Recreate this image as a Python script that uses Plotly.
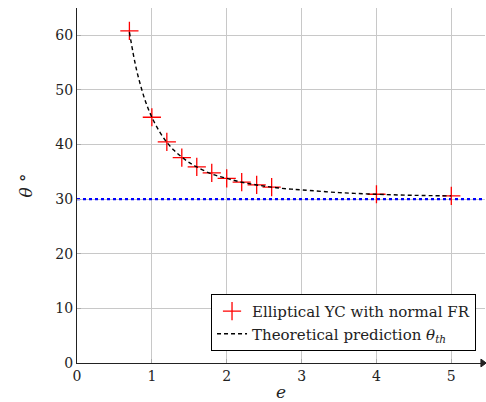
import plotly.graph_objects as go

# Data
e_points = [0.7, 1.0, 1.2, 1.4, 1.6, 1.8, 2.0, 2.2, 2.4, 2.6, 4.0, 5.0]
theta_points = [60.8, 45.0, 40.5, 37.6, 35.9, 34.8, 33.8, 33.1, 32.6, 32.2, 30.9, 30.6]

e_theory = [0.7, 0.75, 0.8, 0.85, 0.9, 0.95, 1.0, 1.1, 1.2, 1.3, 1.4, 1.5, 1.6, 1.8,
            2.0, 2.2, 2.4, 2.6, 2.8, 3.0, 3.5, 4.0, 4.5, 5.0]
theta_theory = [60.6, 56.7, 53.4, 50.8, 48.5, 46.6, 45.0, 42.4, 40.4, 38.9, 37.7, 36.7,
                35.9, 34.6, 33.8, 33.1, 32.6, 32.2, 31.9, 31.7, 31.2, 30.9, 30.7, 30.6]

asymptote = 30
x_range = [0, 5.45]
y_range = [0, 65]

FONT = "DejaVu Serif, serif"

fig = go.Figure()

fig.add_trace(go.Scatter(
    x=x_range, y=[asymptote, asymptote], mode="lines",
    line=dict(color="blue", width=2.2, dash="dot"),
    showlegend=False, hoverinfo="skip"))

fig.add_trace(go.Scatter(
    x=e_points, y=theta_points, mode="markers",
    marker=dict(symbol="cross-thin", size=13, line=dict(color="red", width=1.3)),
    name="Elliptical YC with normal FR"))

fig.add_trace(go.Scatter(
    x=e_theory, y=theta_theory, mode="lines", line_shape="spline",
    line=dict(color="black", width=1.4, dash="4px,3px"),
    name="Theoretical prediction <i>θ</i><sub><i>th</i></sub>"))

fig.update_layout(
    width=486, height=402,
    margin=dict(l=77, r=1, t=8, b=39),
    plot_bgcolor="white", paper_bgcolor="white",
    font=dict(family=FONT, size=14, color="#222"),
    showlegend=True,
    legend=dict(x=0.978, y=0.034, xanchor="right", yanchor="bottom",
                bgcolor="white", bordercolor="black", borderwidth=1,
                font=dict(family=FONT, size=15, color="#222"),
                tracegroupgap=0, itemwidth=30),
    xaxis=dict(range=x_range, tickvals=[0, 1, 2, 3, 4, 5],
               showgrid=True, gridcolor="#c8c8c8", gridwidth=1,
               showline=True, linecolor="#222", linewidth=1.2,
               ticks="inside", ticklen=4, tickcolor="#aaa",
               zeroline=False,
               title=dict(text="<i>e</i>", standoff=4)),
    yaxis=dict(range=y_range, tickvals=[0, 10, 20, 30, 40, 50, 60],
               showgrid=True, gridcolor="#c8c8c8", gridwidth=1,
               showline=True, linecolor="#222", linewidth=1.2,
               ticks="inside", ticklen=4, tickcolor="#aaa",
               zeroline=False,
               title=dict(text="<i>θ</i> °", standoff=18)),
)

# arrow head at the right end of the x axis
fig.add_shape(type="path", xref="paper", yref="paper",
              path="M 0.99,0.011 L 1.003,0 L 0.99,-0.011 Z",
              fillcolor="#222", line=dict(color="#222", width=1))

fig.write_html("out.html")
